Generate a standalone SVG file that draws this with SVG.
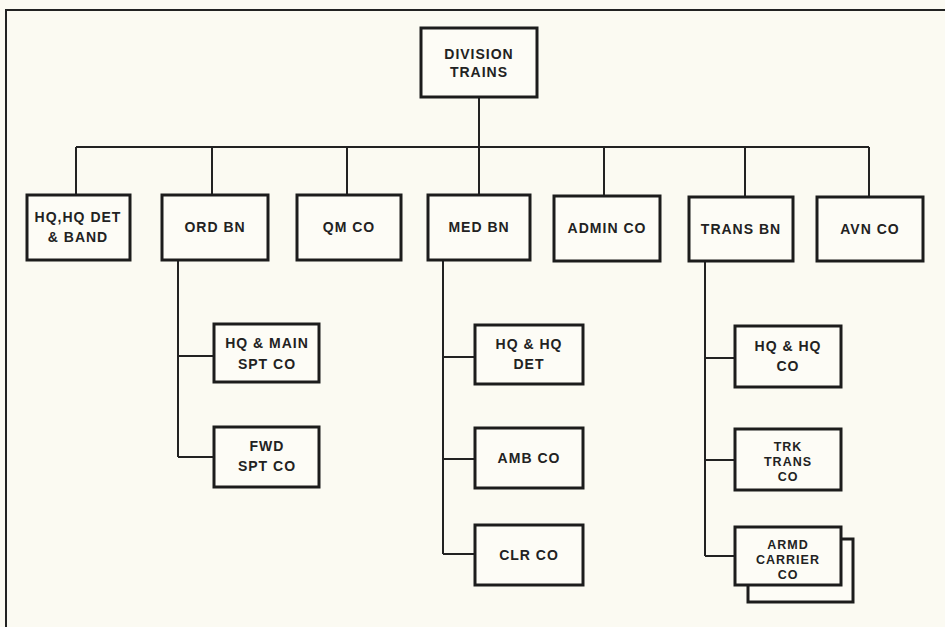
<svg xmlns="http://www.w3.org/2000/svg" width="945" height="627" viewBox="0 0 945 627">
<style>
.box{fill:#fdfcf6;stroke:#1c1c1c;stroke-width:3}
.ln{fill:none;stroke:#222;stroke-width:2}
text{font-family:"Liberation Sans",Arial,sans-serif;font-weight:bold;font-size:14px;letter-spacing:1px;fill:#222;text-anchor:middle}
text.s{font-size:12.5px}
</style>
<rect x="0" y="0" width="945" height="627" fill="#fbfaf2"/>
<path class="ln" d="M6,627 V10 H945"/>
<g id="connectors">
<path class="ln" d="M479,97 V147 M76,147 H869 M76,147 V195 M212,147 V195 M347,147 V195 M479,147 V195 M604,147 V195 M745,147 V197 M869,147 V197"/>
<path class="ln" d="M178,260 V457 M178,356 H214 M178,457 H214"/>
<path class="ln" d="M443,260 V554 M443,357 H475 M443,459 H475 M443,554 H475"/>
<path class="ln" d="M705,261 V556 M705,358 H735 M705,460 H735 M705,556 H735"/>
</g>
<g id="division-trains"><rect class="box" x="421" y="28" width="116" height="69"/><text x="479" y="59">DIVISION</text><text x="479" y="77">TRAINS</text></g>
<g id="hq-band"><rect class="box" x="27" y="195" width="103" height="65"/><text x="78" y="222">HQ,HQ DET</text><text x="78" y="242">&amp; BAND</text></g>
<g id="ord-bn"><rect class="box" x="162" y="195" width="106" height="65"/><text x="215" y="232">ORD BN</text></g>
<g id="qm-co"><rect class="box" x="297" y="195" width="104" height="65"/><text x="349" y="232">QM CO</text></g>
<g id="med-bn"><rect class="box" x="428" y="195" width="102" height="65"/><text x="479" y="232">MED BN</text></g>
<g id="admin-co"><rect class="box" x="554" y="196" width="106" height="65"/><text x="607" y="233">ADMIN CO</text></g>
<g id="trans-bn"><rect class="box" x="689" y="197" width="104" height="64"/><text x="741" y="234">TRANS BN</text></g>
<g id="avn-co"><rect class="box" x="817" y="197" width="106" height="64"/><text x="870" y="234">AVN CO</text></g>
<g id="hq-main-spt"><rect class="box" x="214" y="324" width="105" height="58"/><text x="267" y="348">HQ &amp; MAIN</text><text x="267" y="369">SPT CO</text></g>
<g id="fwd-spt"><rect class="box" x="214" y="427" width="105" height="60"/><text x="267" y="451">FWD</text><text x="267" y="471">SPT CO</text></g>
<g id="med-hq-det"><rect class="box" x="475" y="325" width="108" height="59"/><text x="529" y="349">HQ &amp; HQ</text><text x="529" y="369">DET</text></g>
<g id="amb-co"><rect class="box" x="475" y="428" width="108" height="60"/><text x="529" y="463">AMB CO</text></g>
<g id="clr-co"><rect class="box" x="475" y="525" width="108" height="60"/><text x="529" y="560">CLR CO</text></g>
<g id="trans-hq-co"><rect class="box" x="735" y="326" width="106" height="61"/><text x="788" y="351">HQ &amp; HQ</text><text x="788" y="371">CO</text></g>
<g id="trk-trans-co"><rect class="box" x="735" y="429" width="106" height="61"/><text class="s" x="788" y="451">TRK</text><text class="s" x="788" y="466">TRANS</text><text class="s" x="788" y="481">CO</text></g>
<g id="armd-carrier-co"><rect class="box" x="748" y="539" width="105" height="63"/><rect class="box" x="735" y="527" width="106" height="58"/><text class="s" x="788" y="549">ARMD</text><text class="s" x="788" y="564">CARRIER</text><text class="s" x="788" y="579">CO</text></g>
</svg>
